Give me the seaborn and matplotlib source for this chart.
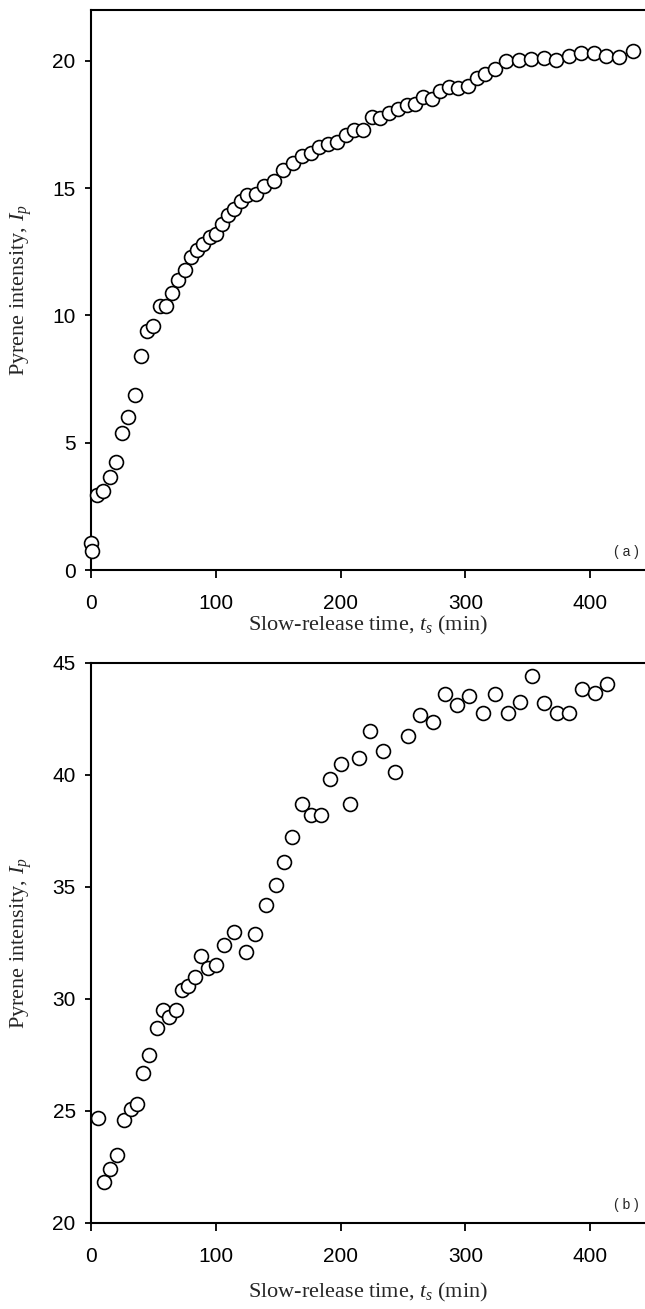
import matplotlib
matplotlib.use("Agg")
import matplotlib.pyplot as plt
import seaborn as sns
import pandas as pd

# Panel (a)
x_a = [0, 1, 5, 10, 15, 20, 25, 30, 35, 40, 45, 50, 55, 60, 65, 70, 75, 80, 85, 90,
       95, 100, 105, 110, 115, 120, 125, 132, 139, 147, 154, 162, 169, 176, 183, 190,
       197, 204, 211, 218, 225, 232, 239, 246, 253, 260, 266, 273, 280, 287, 294, 302,
       309, 316, 324, 333, 343, 353, 363, 373, 383, 393, 403, 413, 423, 434]
y_a = [1.08, 0.75, 2.96, 3.11, 3.64, 4.24, 5.38, 6.0, 6.89, 8.39, 9.4, 9.58, 10.38, 10.38,
       10.9, 11.4, 11.8, 12.3, 12.56, 12.8, 13.08, 13.2, 13.6, 13.95, 14.2, 14.5, 14.75,
       14.78, 15.07, 15.3, 15.7, 16.0, 16.27, 16.4, 16.6, 16.72, 16.8, 17.1, 17.28, 17.28,
       17.8, 17.77, 17.97, 18.12, 18.27, 18.3, 18.6, 18.5, 18.83, 18.98, 18.92, 19.02,
       19.32, 19.5, 19.7, 20.0, 20.03, 20.08, 20.1, 20.05, 20.2, 20.3, 20.3, 20.2, 20.15, 20.4]

# Panel (b)
x_b = [5.6, 10.7, 15.6, 20.9, 26.8, 31.7, 36.8, 41.9, 46.7, 52.6, 57.7, 62.5, 67.9, 73,
       78, 83, 88.3, 93.7, 99.9, 106.8, 114.6, 124, 131.8, 139.9, 147.9, 154.4, 161, 169,
       176.4, 184.4, 191.4, 200.5, 207.5, 214.5, 223.6, 233.7, 243.9, 253.7, 263.6, 273.8,
       283.7, 293.3, 303.2, 313.9, 323.8, 334, 343.9, 353.5, 363.4, 373.5, 383.4, 393.6,
       403.7, 413.6]
y_b = [24.7, 21.83, 22.43, 23.03, 24.62, 25.1, 25.3, 26.7, 27.5, 28.7, 29.5, 29.2, 29.5,
       30.4, 30.6, 31.0, 31.9, 31.4, 31.5, 32.4, 33.0, 32.1, 32.9, 34.2, 35.1, 36.1, 37.25,
       38.7, 38.2, 38.2, 39.8, 40.5, 38.7, 40.77, 41.97, 41.08, 40.12, 41.74, 42.68, 42.36,
       43.62, 43.13, 43.54, 42.79, 43.62, 42.79, 43.28, 44.41, 43.21, 42.79, 42.79, 43.85,
       43.64, 44.07]

x_ticks = [0, 100, 200, 300, 400]
y_ticks_a = [0, 5, 10, 15, 20]
y_ticks_b = [20, 25, 30, 35, 40, 45]

sns.set_style("ticks")
plt.rcParams['font.family'] = ['Liberation Sans', 'DejaVu Sans']
plt.rcParams['mathtext.fontset'] = 'custom'
plt.rcParams['mathtext.rm'] = 'Liberation Serif'
plt.rcParams['mathtext.it'] = 'Liberation Serif:italic'

W, H = 645, 1309
fig = plt.figure(figsize=(W / 100, H / 100), dpi=100)
left = 91 / W
width = 1 - left
ax_a = fig.add_axes([left, 1 - 570 / H, width, (570 - 10) / H])
ax_b = fig.add_axes([left, 1 - 1223 / H, width, (1223 - 663) / H])

df_a = pd.DataFrame({"t": x_a, "I": y_a})
df_b = pd.DataFrame({"t": x_b, "I": y_b})

serif = 'Liberation Serif'
for ax, df, ylim, yt, tag, xpad in [(ax_a, df_a, (0, 22), y_ticks_a, "( a )", 1),
                                    (ax_b, df_b, (20, 45), y_ticks_b, "( b )", 11)]:
    sns.scatterplot(data=df, x="t", y="I", ax=ax, s=100, marker="o",
                    facecolor="white", edgecolor="black", linewidth=1.2,
                    clip_on=False, zorder=3)
    ax.set_xlim(0, 444)
    ax.set_ylim(*ylim)
    ax.set_xticks(x_ticks)
    ax.set_yticks(yt)
    ax.tick_params(axis="x", direction="out", length=6, width=1.3, labelsize=15,
                   colors="black", pad=11)
    ax.tick_params(axis="y", direction="out", length=4.5, width=1.3, labelsize=15,
                   colors="black", pad=6.5)
    for side in ["left", "bottom", "top"]:
        ax.spines[side].set_linewidth(1.5)
        ax.spines[side].set_color("black")
    ax.spines["right"].set_visible(False)
    ax.set_xlabel(r"Slow-release time, $t_s$ (min)", fontsize=16,
                  family=serif, labelpad=xpad)
    ax.set_ylabel(r"Pyrene intensity, $I_p$", fontsize=16, family=serif,
                  labelpad=13)
    ax.text(0.989, 0.025, tag, transform=ax.transAxes, ha="right", va="baseline",
            fontsize=10)

fig.savefig("out.png", dpi=100)
